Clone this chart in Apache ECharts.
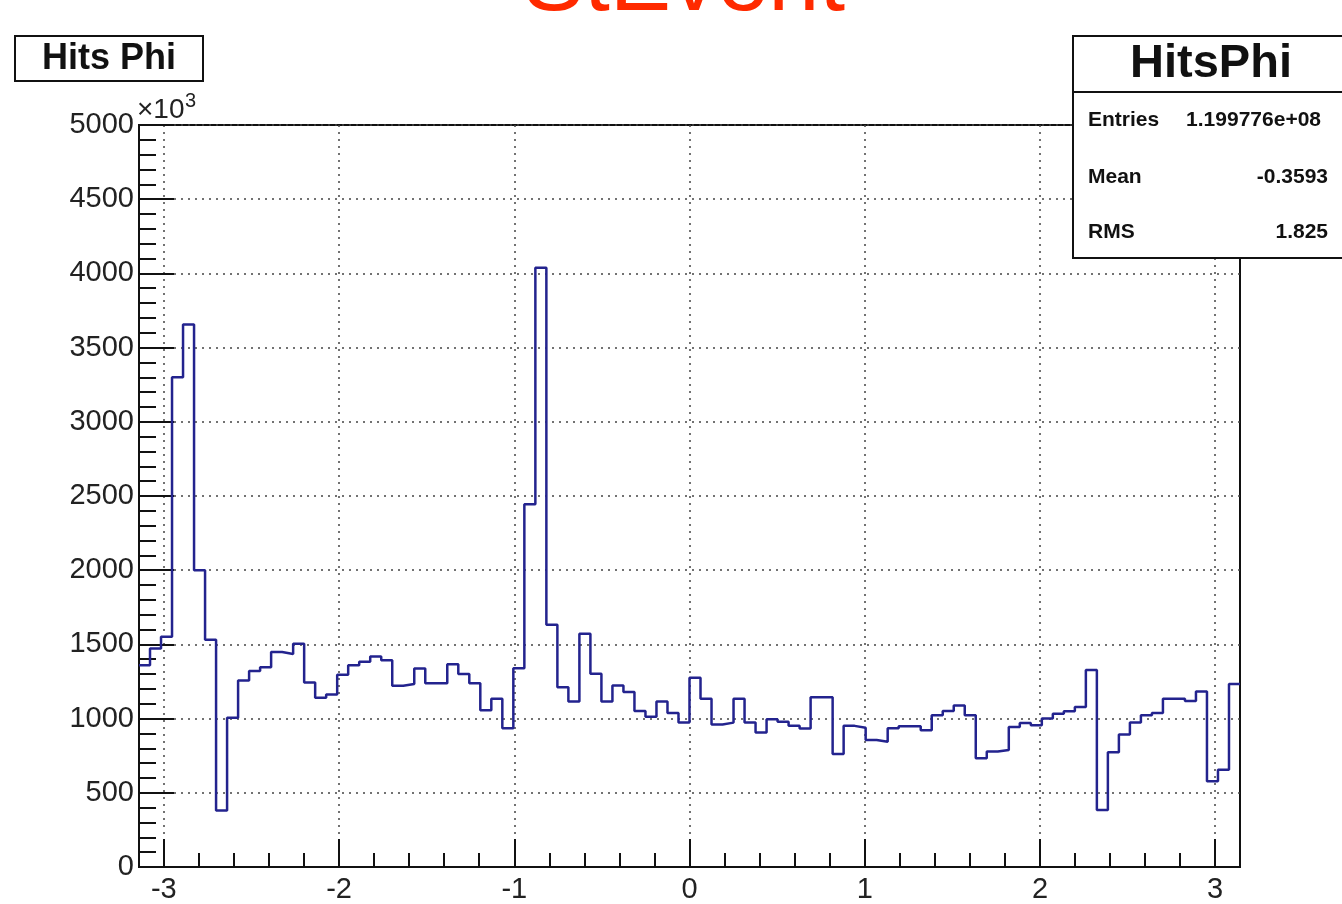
<!DOCTYPE html>
<html>
<head>
<meta charset="utf-8">
<script src="https://cdn.jsdelivr.net/npm/echarts@6/dist/echarts.min.js"></script>
<style>
html,body{margin:0;padding:0;background:#fff;}
#chart{width:1342px;height:904px;}
</style>
</head>
<body>
<div id="chart"></div>
<script>
// Histogram definition (ROOT TH1: 100 bins from -pi to pi)
const nBins = 100;
const xMin = -Math.PI;
const xMax = Math.PI;

// Bin contents in units of 10^3 hits
const hitsPhiK = [
  1360, 1472, 1552, 3300, 3655, 2000, 1531, 380, 1005, 1256,
  1321, 1346, 1449, 1436, 1505, 1244, 1141, 1162, 1295, 1359,
  1383, 1418, 1393, 1222, 1233, 1338, 1238, 1238, 1367, 1300,
  1238, 1056, 1133, 935, 1340, 2444, 4038, 1633, 1212, 1115,
  1572, 1303, 1115, 1223, 1180, 1051, 1013, 1115, 1038, 974,
  1276, 1133, 960, 973, 1133, 973, 907, 996, 978, 951,
  933, 1144, 1144, 762, 951, 938, 856, 844, 935, 949,
  949, 922, 1022, 1051, 1089, 1022, 733, 778, 789, 944,
  971, 956, 1000, 1033, 1049, 1078, 1327, 384, 773, 893,
  973, 1022, 1038, 1133, 1133, 1118, 1182, 578, 656, 1233
];

// Axis tick labels
const xMajorTicks = [-3, -2, -1, 0, 1, 2, 3];
const xMinorTicks = [-2.8, -2.6, -2.4, -2.2, -1.8, -1.6, -1.4, -1.2, -0.8, -0.6, -0.4, -0.2,
                     0.2, 0.4, 0.6, 0.8, 1.2, 1.4, 1.6, 1.8, 2.2, 2.4, 2.6, 2.8];
const yMin = 0, yMax = 5000, yStep = 500;

// Texts
const pageTitle = 'StEvent';
const histTitle = 'Hits Phi';
const statsName = 'HitsPhi';
const statsLabels = ['Entries', 'Mean', 'RMS'];
const statsValues = ['1.199776e+08', '-0.3593', '1.825'];
const statsValueRight = [1321, 1328, 1328];
const statsRowY = [120, 177, 232];

const FONT = '"Liberation Sans", Arial, Helvetica, sans-serif';

// Step data: left edge of each bin + final right edge
const binWidth = (xMax - xMin) / nBins;
const stepData = hitsPhiK.map((v, i) => [xMin + i * binWidth, v]);
stepData.push([xMax, hitsPhiK[hitsPhiK.length - 1]]);

const chart = echarts.init(document.getElementById('chart'), null, {renderer: 'canvas'});

const graphics = [
  // red page title, cut at the top
  {type: 'text', x: 684, y: -15, z: 100,
   style: {text: pageTitle, font: '92px ' + FONT, fill: '#ff2a00', align: 'center', verticalAlign: 'middle'}},
  // histogram title box
  {type: 'rect', z: 100, shape: {x: 15, y: 36, width: 188, height: 45},
   style: {fill: '#fff', stroke: '#111', lineWidth: 2}},
  {type: 'text', x: 109, y: 59, z: 101,
   style: {text: histTitle, font: 'bold 36px ' + FONT, fill: '#111', align: 'center', verticalAlign: 'middle'}},
  // x10^3 exponent label
  {type: 'text', x: 137, y: 110, z: 100,
   style: {text: '×10', font: '28px ' + FONT, fill: '#222', align: 'left', verticalAlign: 'middle'}},
  {type: 'text', x: 185, y: 101, z: 100,
   style: {text: '3', font: '20px ' + FONT, fill: '#222', align: 'left', verticalAlign: 'middle'}},
  // stats box
  {type: 'rect', z: 100, shape: {x: 1073, y: 36, width: 300, height: 222},
   style: {fill: '#fff', stroke: '#111', lineWidth: 2}},
  {type: 'line', z: 101, shape: {x1: 1073, y1: 92, x2: 1342, y2: 92},
   style: {stroke: '#111', lineWidth: 2}},
  {type: 'text', x: 1211, y: 64, z: 101,
   style: {text: statsName, font: 'bold 47px ' + FONT, fill: '#111', align: 'center', verticalAlign: 'middle'}}
];
statsLabels.forEach((lab, i) => {
  graphics.push({type: 'text', x: 1088, y: statsRowY[i], z: 101,
    style: {text: lab, font: 'bold 21px ' + FONT, fill: '#111', align: 'left', verticalAlign: 'middle'}});
  graphics.push({type: 'text', x: statsValueRight[i], y: statsRowY[i], z: 101,
    style: {text: statsValues[i], font: 'bold 21px ' + FONT, fill: '#111', align: 'right', verticalAlign: 'middle'}});
});

const gridLine = {show: true, lineStyle: {type: [2, 5], color: '#444', width: 1.5}};

const option = {
  animation: false,
  backgroundColor: '#fff',
  grid: {left: 139, top: 125, width: 1101, height: 743, show: true,
         borderColor: '#111', borderWidth: 2, backgroundColor: 'transparent', containLabel: false},
  xAxis: [
    {type: 'value', min: xMin, max: xMax, position: 'bottom',
     axisLine: {show: true, onZero: false, lineStyle: {color: '#111', width: 2}},
     axisTick: {show: true, inside: true, length: 28, customValues: xMajorTicks,
                lineStyle: {color: '#111', width: 2}},
     axisLabel: {show: true, customValues: xMajorTicks, fontSize: 29, color: '#222', fontFamily: FONT,
                 margin: 8, formatter: v => String(Math.round(v))},
     splitLine: gridLine},
    {type: 'value', min: xMin, max: xMax, position: 'bottom',
     axisLine: {show: false, onZero: false},
     axisTick: {show: true, inside: true, length: 14, customValues: xMinorTicks,
                lineStyle: {color: '#111', width: 2}},
     axisLabel: {show: false},
     splitLine: {show: false}}
  ],
  yAxis: {type: 'value', min: yMin, max: yMax, interval: yStep,
    axisLine: {show: true, onZero: false, lineStyle: {color: '#111', width: 2}},
    axisTick: {show: true, inside: true, length: 35, lineStyle: {color: '#111', width: 2}},
    minorTick: {show: true, splitNumber: 5, length: 17, lineStyle: {color: '#111', width: 2}},
    axisLabel: {fontSize: 29, color: '#222', fontFamily: FONT, margin: 5,
                formatter: v => String(Math.round(v))},
    splitLine: gridLine},
  series: [{
    type: 'line', step: 'end', xAxisIndex: 0, yAxisIndex: 0,
    data: stepData, symbol: 'none', showSymbol: false,
    lineStyle: {color: '#23238e', width: 2.5}, clip: true
  }],
  graphic: graphics
};
chart.setOption(option);
</script>
</body>
</html>
